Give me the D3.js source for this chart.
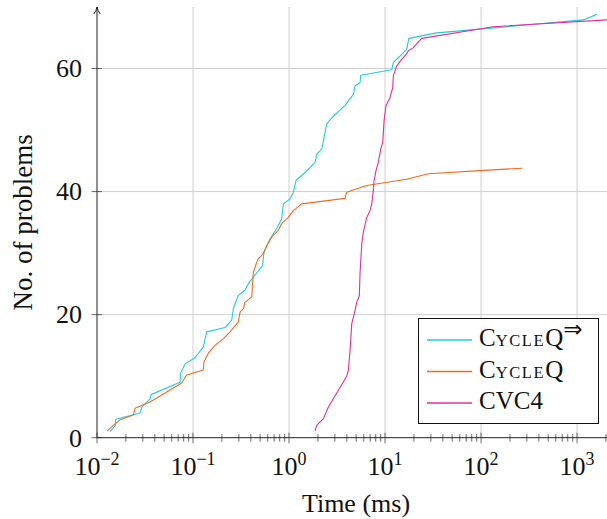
<!DOCTYPE html>
<html>
<head>
<meta charset="utf-8">
<script src="https://cdn.jsdelivr.net/npm/d3@7"></script>
<style>
  html, body { margin: 0; padding: 0; background: #fff; }
  svg { display: block; font-family: "Liberation Serif", "Times New Roman", serif; }
</style>
</head>
<body>
<div id="chart"></div>
<script>
// values: time (ms) against cumulative no. of problems solved
const cycleqImpTime = [0.0137, 0.0155, 0.0157, 0.0281, 0.0294, 0.0357, 0.0365, 0.0733, 0.0745, 0.0826,
  0.105, 0.128, 0.139, 0.216, 0.253, 0.263, 0.296, 0.348, 0.377, 0.425, 0.532, 0.549, 0.634, 0.744,
  0.839, 0.873, 1.024, 1.109, 1.183, 1.468, 1.866, 1.944, 2.19, 2.47, 2.79, 3.83, 4.68, 4.87, 5.49,
  5.58, 11.75, 12.2, 14.3, 16.8, 17.7, 34.6, 97.7, 351, 1164, 1604];
const cycleqImpSolved = [1, 2, 3, 4, 5, 6.3, 7, 9, 10.5, 12,
  13, 14.75, 17.2, 17.9, 19.1, 21, 23.1, 24, 25, 26.1, 28, 30.2, 32.3, 34,
  35.6, 38, 38.8, 39.9, 41.8, 43.1, 44.75, 46.1, 46.9, 51, 52, 54, 55.8, 57.2, 57.7,
  58.9, 59.8, 61, 62, 63.1, 64.9, 65.8, 66.4, 67.2, 67.9, 68.8];

const cycleqTime = [0.0128, 0.0148, 0.0174, 0.0239, 0.0249, 0.0357, 0.0762, 0.0859, 0.128, 0.130,
  0.144, 0.169, 0.207, 0.243, 0.296, 0.309, 0.334, 0.348, 0.409, 0.425, 0.461, 0.479, 0.540, 0.585,
  0.660, 0.774, 0.839, 0.983, 1.109, 1.356, 3.83, 3.99, 6.45, 16.8, 28.3, 97.7, 269];
const cycleqSolved = [1.1, 2, 2.9, 3.7, 4.8, 5.8, 8.9, 10.2, 11, 12.3,
  13.7, 15, 16.1, 17.2, 18.8, 20.4, 21, 22, 22.9, 26.9, 28.5, 29.1, 29.9, 31.2,
  32.6, 33.7, 34.8, 35.8, 36.9, 38, 38.9, 39.9, 41, 42, 42.9, 43.4, 43.8];

const cvc4Time = [1.866, 1.944, 2.28, 2.57, 3.99, 4.15, 4.32, 4.50, 4.87, 5.07, 5.40, 5.49, 5.72,
  5.94, 6.45, 6.98, 7.27, 7.55, 7.68, 8.05, 8.51, 9.01, 9.46, 9.77, 10.24, 11.27, 12.03, 12.2,
  13.2, 14.9, 16.6, 17.5, 19.7, 24.1, 134, 2037];
const cvc4Solved = [1.1, 2, 3.1, 5, 10, 11, 14.2, 18.5, 20.7, 22, 23.1, 26.7, 31.5,
  33.4, 35.8, 36.9, 38, 40.2, 41.8, 43.4, 44.75, 46.9, 48, 51.5, 54, 55.3, 56.9, 58.8,
  60.4, 61.5, 62.3, 62.9, 63.4, 64.9, 66.8, 67.9];

const xTicks = [0.01, 0.1, 1, 10, 100, 1000];
const xTickExp = ["\u22122", "\u22121", "0", "1", "2", "3"];
const yTicks = [0, 20, 40, 60];
const gridY = [20, 40, 60];
const seriesNames = ["CycleQ", "CycleQ", "CVC4"];
const seriesColors = ["#22ccdd", "#f06b1f", "#e0309a"];

const width = 607, height = 519;
const margin = { top: 7, right: 0, bottom: 81.3, left: 97 };

const svg = d3.select('#chart').append('svg')
    .attr('width', width)
    .attr('height', height);

const x = d3.scaleLog()
    .domain([0.01, 2050])
    .range([margin.left, width - margin.right]);

const y = d3.scaleLinear()
    .domain([0, 70])
    .range([height - margin.bottom, margin.top]);

const y0 = y(0);

// grid
svg.append('g')
    .selectAll('line')
    .data(xTicks.slice(1))
    .enter().append('line')
    .attr('x1', d => x(d)).attr('x2', d => x(d))
    .attr('y1', margin.top).attr('y2', y0)
    .attr('stroke', '#cfcfcf').attr('stroke-width', 1);

svg.append('g')
    .selectAll('line')
    .data(gridY)
    .enter().append('line')
    .attr('x1', margin.left).attr('x2', width)
    .attr('y1', d => y(d)).attr('y2', d => y(d))
    .attr('stroke', '#cfcfcf').attr('stroke-width', 1);

// minor ticks on the log axis
const minorTicks = [];
xTicks.forEach(t => {
    for (let k = 2; k <= 9; k++) {
        if (t * k <= x.domain()[1]) minorTicks.push(t * k);
    }
});

svg.append('g')
    .selectAll('line')
    .data(minorTicks)
    .enter().append('line')
    .attr('x1', d => x(d)).attr('x2', d => x(d))
    .attr('y1', y0 - 3.5).attr('y2', y0 + 4)
    .attr('stroke', '#444').attr('stroke-width', 0.8);

svg.append('g')
    .selectAll('line')
    .data(xTicks)
    .enter().append('line')
    .attr('x1', d => x(d)).attr('x2', d => x(d))
    .attr('y1', y0 - 5).attr('y2', y0 + 5.5)
    .attr('stroke', '#444').attr('stroke-width', 0.8);

svg.append('g')
    .selectAll('line')
    .data(yTicks)
    .enter().append('line')
    .attr('x1', margin.left - 5.5).attr('x2', margin.left + 5)
    .attr('y1', d => y(d)).attr('y2', d => y(d))
    .attr('stroke', '#444').attr('stroke-width', 0.8);

// curves
const line = d3.line()
    .x(d => x(d[0]))
    .y(d => y(d[1]));

const series = [
    d3.zip(cycleqImpTime, cycleqImpSolved),
    d3.zip(cycleqTime, cycleqSolved),
    d3.zip(cvc4Time, cvc4Solved)
];

svg.append('g')
    .selectAll('path')
    .data(series)
    .enter().append('path')
    .attr('d', line)
    .attr('fill', 'none')
    .attr('stroke', (d, i) => seriesColors[i])
    .attr('stroke-width', 1.1)
    .attr('stroke-linejoin', 'round');

// axis lines
svg.append('line')
    .attr('x1', margin.left).attr('x2', width)
    .attr('y1', y0).attr('y2', y0)
    .attr('stroke', '#222').attr('stroke-width', 1);

svg.append('line')
    .attr('x1', margin.left).attr('x2', margin.left)
    .attr('y1', y0).attr('y2', margin.top)
    .attr('stroke', '#222').attr('stroke-width', 1);

svg.append('path')
    .attr('d', `M${margin.left - 3.2},${margin.top + 7} Q${margin.left - 0.6},${margin.top + 3.5} ${margin.left},${margin.top} Q${margin.left + 0.6},${margin.top + 3.5} ${margin.left + 3.2},${margin.top + 7}`)
    .attr('fill', 'none')
    .attr('stroke', '#222')
    .attr('stroke-width', 1);

// tick labels
const xLab = svg.append('g')
    .selectAll('text')
    .data(xTicks)
    .enter().append('text')
    .attr('x', d => x(d))
    .attr('y', y0 + 37)
    .attr('text-anchor', 'middle')
    .attr('font-size', 26)
    .attr('fill', '#111');
xLab.append('tspan').text('10');
xLab.append('tspan')
    .attr('font-size', 18)
    .attr('dy', -10)
    .text((d, i) => xTickExp[i]);

svg.append('g')
    .selectAll('text')
    .data(yTicks)
    .enter().append('text')
    .attr('x', margin.left - 15)
    .attr('y', d => y(d))
    .attr('dy', '0.34em')
    .attr('text-anchor', 'end')
    .attr('font-size', 26)
    .attr('fill', '#111')
    .text(d => d);

// axis titles
svg.append('text')
    .attr('x', (margin.left + width) / 2 + 4)
    .attr('y', 512)
    .attr('text-anchor', 'middle')
    .attr('font-size', 26)
    .attr('fill', '#111')
    .text('Time (ms)');

svg.append('text')
    .attr('transform', `translate(32,${(margin.top + y0) / 2}) rotate(-90)`)
    .attr('text-anchor', 'middle')
    .attr('font-size', 27)
    .attr('fill', '#111')
    .text('No. of problems');

// legend
const legend = svg.append('g');
legend.append('rect')
    .attr('x', 418.5).attr('y', 318.5)
    .attr('width', 180).attr('height', 105)
    .attr('fill', '#fff')
    .attr('stroke', '#111')
    .attr('stroke-width', 1);

const entries = legend.selectAll('g.entry')
    .data(seriesNames)
    .enter().append('g')
    .attr('class', 'entry')
    .attr('transform', (d, i) => `translate(0,${340 + i * 31.5})`);

entries.append('line')
    .attr('x1', 427).attr('x2', 472)
    .attr('y1', 0).attr('y2', 0)
    .attr('stroke', (d, i) => seriesColors[i])
    .attr('stroke-width', 1.3);

entries.each(function (name, i) {
    const t = d3.select(this).append('text')
        .attr('x', 479)
        .attr('y', 6)
        .attr('font-size', 25)
        .attr('fill', '#111');
    if (name === 'CycleQ') {
        // small caps by hand
        t.append('tspan').text('C');
        t.append('tspan').attr('font-size', 16.5).attr('letter-spacing', 1.6).text('YCLE');
        t.append('tspan').text('Q');
        if (i === 0) {
            t.append('tspan')
                .attr('font-family', '"DejaVu Sans"')
                .attr('font-size', 23)
                .attr('dy', -9)
                .text('\u21D2');
        }
    } else {
        t.text(name);
    }
});
</script>
</body>
</html>
